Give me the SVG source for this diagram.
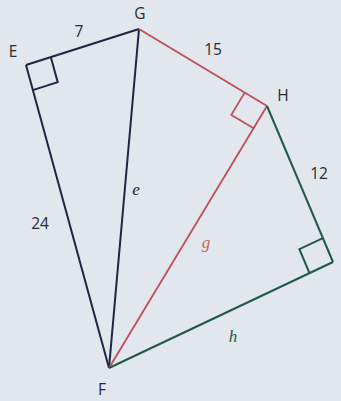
<svg xmlns="http://www.w3.org/2000/svg" width="341" height="401" viewBox="0 0 341 401">
<style>
.lbl{font-family:"Open Sans","Liberation Sans",sans-serif;font-size:15.5px;fill:#262a33}
.var{font-family:"Liberation Serif",serif;font-style:italic;font-size:17px}
.navy{stroke:#1d2642;stroke-width:2;fill:none;stroke-linejoin:miter}
.red{stroke:#bf4f5c;stroke-width:1.8;fill:none}
.green{stroke:#1f5a48;stroke-width:2;fill:none}
</style>
<rect width="341" height="401" fill="#e2e6ed"/>
<g id="connectors">
<line class="navy" x1="26" y1="65" x2="139" y2="29"/>
<line class="navy" x1="26" y1="65" x2="109" y2="368"/>
<line class="navy" x1="139" y1="29" x2="109" y2="368"/>
<line class="red" x1="139" y1="29" x2="267" y2="106"/>
<line class="red" x1="267" y1="106" x2="109" y2="368"/>
<line class="green" x1="267" y1="106" x2="333" y2="262"/>
<line class="green" x1="333" y1="262" x2="109" y2="368"/>
<polyline class="navy" points="50.8,57.1 57.7,82.2 32.8,90.1"/>
<polyline class="red" points="244.7,92.6 231.3,114.9 253.6,128.3"/>
<polyline class="green" points="322.9,238.1 299.4,249.2 309.5,273.1"/>
</g>
<g id="E"><text class="lbl" x="13" y="57" text-anchor="middle">E</text></g>
<g id="G"><text class="lbl" x="140" y="19" text-anchor="middle">G</text></g>
<g id="H"><text class="lbl" x="283" y="101" text-anchor="middle">H</text></g>
<g id="F"><text class="lbl" x="102" y="395" text-anchor="middle">F</text></g>
<g id="labels">
<text class="lbl" x="79" y="37" text-anchor="middle">7</text>
<text class="lbl" x="213" y="55" text-anchor="middle">15</text>
<text class="lbl" x="319" y="179" text-anchor="middle">12</text>
<text class="lbl" x="40" y="229" text-anchor="middle">24</text>
<text class="var" x="136" y="195" text-anchor="middle" fill="#1d2642">e</text>
<text class="var" x="206" y="248" text-anchor="middle" fill="#bf6a5c">g</text>
<text class="var" x="233" y="342" text-anchor="middle" fill="#1f5a48">h</text>
</g>
</svg>
